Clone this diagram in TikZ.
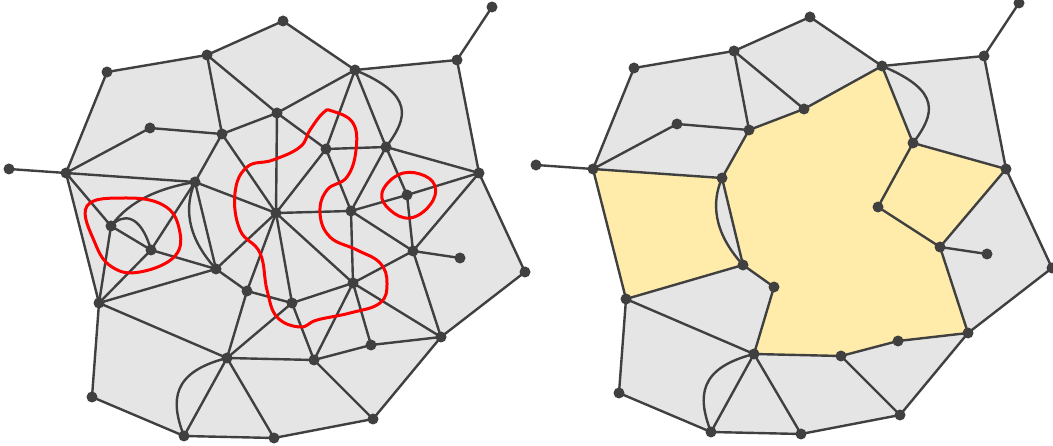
\documentclass[tikz,border=0pt]{standalone}
\usepackage{tikz}

\definecolor{ink}{RGB}{64,64,64}
\definecolor{facegray}{RGB}{229,229,229}
\definecolor{merged}{RGB}{255,236,170}

% vertex positions of the graph (pixels, y downwards)
\newcommand{\placeverts}{%
  \coordinate (A) at (283,21);   \coordinate (B) at (207,55);
  \coordinate (C) at (107,72);   \coordinate (D) at (355,70);
  \coordinate (E) at (457,60);   \coordinate (F) at (492,7);
  \coordinate (G) at (150,128);  \coordinate (H) at (222,134);
  \coordinate (I) at (277,113);  \coordinate (J) at (9,169);
  \coordinate (K) at (66,173);   \coordinate (L) at (195,182);
  \coordinate (M) at (326,149);  \coordinate (N) at (386,147);
  \coordinate (O) at (479,173);  \coordinate (P) at (407,195);
  \coordinate (Q) at (111,226);  \coordinate (R) at (151,250);
  \coordinate (S) at (276,213);  \coordinate (T) at (351,211);
  \coordinate (U) at (216,269);  \coordinate (V) at (413,251);
  \coordinate (W) at (460,258);  \coordinate (X) at (525,272);
  \coordinate (Y) at (247,291);  \coordinate (Z) at (292,303);
  \coordinate (AA) at (353,283); \coordinate (AB) at (99,303);
  \coordinate (AC) at (371,345); \coordinate (AD) at (441,337);
  \coordinate (AE) at (227,358); \coordinate (AF) at (314,360);
  \coordinate (AG) at (92,397);  \coordinate (AH) at (184,436);
  \coordinate (AI) at (274,438); \coordinate (AJ) at (373,419);
}

% edges that survive the deletion
\newcommand{\keptedges}{J/K, K/C, C/B, B/A, A/D, D/E, E/F, E/O, O/X, X/AD,
  AD/AJ, AJ/AI, AI/AH, AH/AG, AG/AB, AB/K, K/G, G/H, H/B, B/I, I/D, I/H,
  H/L, K/L, L/U, U/AB, U/Y, D/N, N/T, N/O, O/V, T/V, Y/AE, V/W, V/AD,
  AC/AD, AC/AF, AF/AE, AF/AJ, AB/AE, AE/AI, AE/AH}
\newcommand{\keptverts}{A,B,C,D,E,F,G,H,I,J,K,L,N,O,T,U,V,W,X,Y,AB,AC,AD,AE,AF,AG,AH,AI,AJ}

\newcommand{\keptcurves}{%
  \draw[edge] (D) .. controls (415,95) and (408,118) .. (N);
  \draw[edge] (L) .. controls (185,205) and (185,235) .. (U);
  \draw[edge] (AH) .. controls (170,400) and (172,372) .. (AE);
}

\begin{document}
\begin{tikzpicture}[x=1pt,y=-1pt,
    edge/.style={ink, line width=2.4pt},
    cut/.style={red, line width=3pt, smooth cycle, tension=0.7}]
  \useasboundingbox (0,0) rectangle (1053,446);

  % left: graph with the cutting curves
  \begin{scope}
    \placeverts
    \fill[facegray] (C) -- (B) -- (A) -- (D) -- (E) -- (O) -- (X) -- (AD) -- (AJ)
      -- (AI) -- (AH) -- (AG) -- (AB) -- (K) -- cycle;
    \foreach \a/\b in \keptedges \draw[edge] (\a) -- (\b);
    \foreach \a/\b in {K/Q, Q/R, Q/AB, R/AB, L/R, R/U, U/S, H/S, I/S, L/S,
      I/M, D/M, M/N, M/S, M/T, N/P, O/P, P/T, P/V, S/T, T/AA, S/AA, S/Y, S/Z,
      Y/Z, Z/AE, Z/AA, Z/AF, AA/V, AA/AC, AA/AD, AA/AF}
      \draw[edge] (\a) -- (\b);
    \keptcurves
    \draw[edge] (L) .. controls (160,188) and (130,200) .. (Q);
    \draw[edge] (Q) .. controls (122,214) and (140,212) .. (R);
    % red curves
    \draw[cut] plot coordinates {(87,206) (125,198) (163,205) (179,228)
      (175,256) (140,272) (112,267) (95,243)};
    \draw[cut] plot coordinates {(382,193) (398,175) (420,174) (435,186)
      (430,205) (410,218) (390,210)};
    \draw[cut] plot coordinates {(332,111) (353,123) (356,150) (347,177)
      (327,190) (320,213) (330,237) (357,250) (380,263) (387,283) (380,303)
      (350,313) (317,320) (300,327) (277,317) (267,290) (260,253) (240,230)
      (235,193) (247,167) (273,160) (300,147) (310,130) (323,113)};
    \foreach \v in \keptverts \fill[ink] (\v) circle (5.5pt);
    \foreach \v in {M,P,Q,R,S,Z,AA} \fill[ink] (\v) circle (5.5pt);
  \end{scope}

  % right: inner vertices removed, merged faces in yellow
  \begin{scope}[shift={(527,-4)}]
    \placeverts
    \fill[facegray] (C) -- (B) -- (A) -- (D) -- (E) -- (O) -- (X) -- (AD) -- (AJ)
      -- (AI) -- (AH) -- (AG) -- (AB) -- (K) -- cycle;
    \fill[merged] (K) -- (L) .. controls (185,205) and (185,235) .. (U)
      -- (AB) -- cycle;
    \fill[merged] (L) -- (H) -- (I) -- (D) -- (N) -- (T) -- (V) -- (AD)
      -- (AC) -- (AF) -- (AE) -- (Y) -- (U) -- cycle;
    \fill[merged] (N) -- (O) -- (V) -- (T) -- cycle;
    \foreach \a/\b in \keptedges \draw[edge] (\a) -- (\b);
    \keptcurves
    \foreach \v in \keptverts \fill[ink] (\v) circle (5.5pt);
  \end{scope}
\end{tikzpicture}
\end{document}
